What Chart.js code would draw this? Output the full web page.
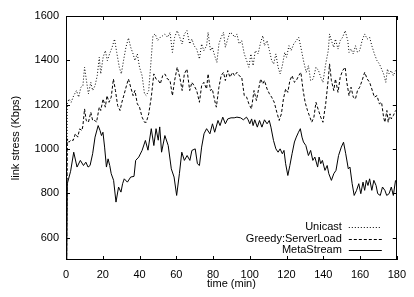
<!DOCTYPE html>
<html>
<head>
<meta charset="utf-8">
<script src="https://cdn.jsdelivr.net/npm/chart.js@4.4.1/dist/chart.umd.min.js"></script>
<style>
  html, body { margin: 0; padding: 0; background: #fff; }
  #wrap { width: 414px; height: 297px; }
</style>
</head>
<body>
<div id="wrap"><canvas id="c" width="414" height="297"></canvas></div>
<script>
// ---- data ----
const seriesNames = ["Unicast", "Greedy:ServerLoad", "MetaStream"];
const xTicks = [0, 20, 40, 60, 80, 100, 120, 140, 160, 180];
const yTicks = [600, 800, 1000, 1200, 1400, 1600];

const unicastTime = [0,0.7,1.6,2.8,4.2,5.7,6.9,8.1,9.2,10.1,11,12.2,13.5,14.5,15.8,17,18.1,18.9,20.2,21.4,22.5,23.7,25.1,26.4,27.6,29,30.1,31.3,32.6,34,35.2,36.5,37.5,38.8,40,41.4,42.7,43.7,45,46.2,47.3,48.5,49.9,51.3,52.6,53.8,55.2,56.6,57.9,59.1,60.5,61.9,63.2,64.4,65.8,67.3,68.5,69.7,71.1,72.6,73.8,75,76.5,77.3,78.6,79.6,80.9,82.1,83.2,84.4,85.7,86.7,88,89.2,90.6,91.7,93,94.2,95.6,97,98.3,99.5,100.6,101.8,103,104.5,105.9,107.1,108,109.4,110.7,111.9,113,114.2,115.4,116.5,117.7,119,120,121.3,122.5,123.9,125.3,126.6,127.8,129.2,130.7,131.9,133.1,134.5,136,137.4,138.6,139.8,141.3,142.7,143.4,144.4,145.7,146.6,148,149.2,150.5,151.9,153.3,154,155.1,156.3,157.5,158.6,159.8,161.1,162.5,163.9,165.2,166.4,167.8,169.2,170.5,171.7,172.8,174,174.9,175.8,177,178.1,179.3];
const unicastValue = [0,1204,1226,1211,1241,1264,1234,1279,1286,1369,1316,1249,1301,1264,1286,1331,1414,1339,1414,1444,1399,1429,1459,1496,1436,1369,1339,1399,1459,1501,1459,1429,1399,1429,1369,1331,1249,1241,1264,1390,1511,1519,1489,1504,1511,1519,1504,1526,1436,1504,1534,1504,1474,1519,1534,1474,1496,1466,1451,1406,1474,1444,1466,1526,1444,1459,1421,1391,1474,1504,1526,1459,1496,1526,1519,1504,1519,1474,1489,1429,1399,1369,1429,1376,1444,1429,1481,1511,1466,1489,1444,1399,1384,1429,1369,1339,1376,1436,1414,1466,1444,1474,1489,1504,1459,1399,1346,1376,1309,1316,1369,1354,1324,1301,1384,1444,1519,1489,1459,1496,1451,1489,1504,1534,1489,1436,1451,1429,1466,1436,1444,1489,1519,1496,1504,1466,1429,1399,1384,1361,1339,1301,1361,1339,1354,1331,1354];

const greedyTime = [0,0.7,1.6,2.8,3.9,5.1,6.4,7.4,8.7,9.2,10.1,11,12.2,13.5,14.5,15.8,16.6,18.1,18.9,20.2,21.4,22.3,23.4,24.6,25.8,26.9,28.1,29.4,30.4,31.7,32.9,34,35.2,36.5,37.5,38.8,40,41.4,42.7,43.7,45,46.4,47.8,49,50.3,51.3,52.6,53.8,55.2,56.6,57.9,59.1,60.5,61.9,63.2,64.4,65.8,67.3,68.5,69.7,71.1,72.6,73.8,75,76.5,77.3,78.6,79.6,80.9,81.8,83.2,84.4,85.7,86.7,88,89.2,90.6,91.7,93,94.2,95.6,97,98.3,99.5,100.9,102.3,103.6,104.8,105.9,107.1,108,109.4,110.7,111.9,113.3,114.7,116,117.2,118.3,119.5,120.7,121.8,123,124.3,125.3,126.6,127.8,128.9,130.1,131.4,132.4,133.7,134.9,136,137.4,138.6,139.8,141.3,142.7,143.4,144.4,145.7,146.6,148,149.2,150.5,151.9,152.8,154,155.1,156.3,157.5,158.6,159.8,161.1,162.5,163.9,165.2,166.4,167.8,169.2,170.5,171.7,172.8,173.5,174.6,175.3,176.3,177,178.1,179.3];
const greedyValue = [0,1046,1031,1042,1039,1069,1054,1091,1084,1106,1181,1129,1121,1166,1129,1129,1121,1189,1174,1226,1189,1241,1211,1234,1316,1264,1196,1174,1211,1249,1286,1316,1279,1241,1264,1204,1189,1144,1121,1121,1159,1234,1339,1316,1309,1294,1331,1339,1316,1309,1241,1309,1369,1324,1264,1339,1361,1264,1301,1286,1264,1211,1286,1301,1271,1339,1264,1271,1219,1189,1279,1331,1346,1309,1354,1324,1346,1331,1346,1331,1324,1241,1234,1204,1181,1264,1219,1271,1316,1294,1309,1271,1249,1234,1211,1166,1129,1159,1226,1271,1256,1309,1331,1301,1309,1331,1346,1271,1211,1174,1151,1121,1144,1211,1174,1144,1121,1204,1316,1384,1309,1264,1316,1256,1324,1354,1369,1301,1241,1279,1234,1226,1264,1279,1309,1346,1316,1301,1271,1234,1241,1204,1211,1144,1121,1174,1121,1159,1136,1151,1174];

const metaTime = [0,0.7,2.5,4.2,6,7.8,9.5,10.8,12,13.1,14.5,15.8,17.5,18.5,19.3,20.1,21,22,22.9,23.8,24.6,25.9,27.2,28.6,29.9,30.8,31.7,33.4,35.2,37,37.9,39.6,41.4,43.2,44.6,46.4,47.8,49,50.2,51,52,53.8,55.6,57.3,58.8,60.2,61.7,63,64.4,65.9,67.4,68.5,70.3,71.5,72.6,73.8,75.1,76.5,78.3,79.7,80.9,82.7,83.8,85.3,86.7,88,89.8,91.5,93,95,96.5,98.2,99.1,100,101,101.8,102.7,104.1,105.3,106.6,108,109.4,110.6,111.5,112.9,114.2,115.4,116.5,117.7,118.6,119.5,120.7,121.8,123,124.3,125.3,126.5,127.5,128.4,129.2,130.5,131.9,133.1,134.3,135.4,136.9,137.7,138.6,139.5,140.9,142.1,143,144.4,145.7,146.9,148.3,149.8,151,152.2,153.6,154.5,155.7,156.8,158.1,159.3,160.4,161.6,162.5,163.4,164.3,165.2,166.4,167.5,168.7,169.6,171,172.2,173.5,174.5,175.8,177,178.1,179.3];
const metaValue = [0,844,900,986,919,949,926,941,919,926,979,1054,1106,1084,1061,1076,1009,919,956,926,889,859,761,829,806,844,866,851,874,877,949,964,994,1039,995,1092,1016,1092,1040,1100,986,1061,1016,911,874,791,889,986,949,971,949,994,1001,934,926,1009,1069,1092,1069,1114,1076,1129,1106,1144,1114,1136,1141,1141,1144,1141,1132,1144,1132,1114,1136,1106,1132,1099,1129,1099,1132,1114,1129,1099,1039,1001,986,1001,979,994,934,881,926,979,1032,1054,1076,1092,1054,1032,1016,971,994,949,964,919,964,934,949,904,926,889,859,889,904,971,1009,1031,979,911,919,844,791,814,844,799,851,814,859,836,866,814,859,836,799,791,829,814,791,799,829,791,859];

// ---- chart ----
const FONT = "'Liberation Sans', Arial, Helvetica, sans-serif";
const INK = "#000";

function pts(ts, vs) { return ts.map((t, i) => ({ x: t, y: vs[i] })); }

const styles = [
  { dash: [1, 2] },
  { dash: [3, 2] },
  { dash: [] }
];

const framePlugin = {
  id: 'frame',
  afterDatasetsDraw(chart) {
    const { ctx, chartArea: a, scales } = chart;
    const xs = scales.x, ys = scales.y;
    ctx.save();
    ctx.strokeStyle = INK;
    ctx.lineWidth = 1;
    ctx.setLineDash([]);
    // frame
    ctx.strokeRect(Math.round(a.left) + 0.5, Math.round(a.top) + 0.5,
                   Math.round(a.right - a.left) - 1, Math.round(a.bottom - a.top) - 1);
    const tl = 4;
    ctx.beginPath();
    xTicks.forEach(v => {
      const px = Math.round(xs.getPixelForValue(v)) + 0.5;
      ctx.moveTo(px, a.bottom); ctx.lineTo(px, a.bottom - tl);
      ctx.moveTo(px, a.top); ctx.lineTo(px, a.top + tl);
    });
    yTicks.forEach(v => {
      const py = Math.round(ys.getPixelForValue(v)) + 0.5;
      ctx.moveTo(a.left, py); ctx.lineTo(a.left + tl, py);
      ctx.moveTo(a.right, py); ctx.lineTo(a.right - tl, py);
    });
    ctx.stroke();

    // legend (inside, bottom right)
    ctx.font = "11px " + FONT;
    ctx.fillStyle = INK;
    ctx.textAlign = 'right';
    ctx.textBaseline = 'middle';
    const textRight = a.right - 55;
    const lineX0 = a.right - 48, lineX1 = a.right - 15;
    const rowY = [a.bottom - 33, a.bottom - 21.5, a.bottom - 10];
    seriesNames.forEach((name, i) => {
      ctx.fillText(name, textRight, rowY[i]);
      ctx.beginPath();
      ctx.setLineDash(styles[i].dash);
      ctx.moveTo(lineX0, Math.round(rowY[i]) + 0.5);
      ctx.lineTo(lineX1, Math.round(rowY[i]) + 0.5);
      ctx.stroke();
    });
    ctx.restore();
  }
};

const seriesData = [pts(unicastTime, unicastValue), pts(greedyTime, greedyValue), pts(metaTime, metaValue)];

new Chart(document.getElementById('c'), {
  type: 'line',
  data: {
    datasets: seriesNames.map((n, i) => ({
      label: n,
      data: seriesData[i],
      borderColor: INK,
      borderWidth: 1,
      borderDash: styles[i].dash,
      pointRadius: 0,
      tension: 0,
      fill: false
    }))
  },
  options: {
    responsive: false,
    animation: false,
    devicePixelRatio: 1,
    layout: { padding: { left: 0, top: 16, right: 9, bottom: 0 } },
    plugins: { legend: { display: false }, tooltip: { enabled: false } },
    scales: {
      x: {
        type: 'linear',
        min: 0, max: 180,
        afterBuildTicks: s => { s.ticks = xTicks.map(v => ({ value: v })); },
        afterFit: s => { s.height = 37; },
        grid: { display: false, drawTicks: false },
        border: { display: false },
        ticks: { color: INK, font: { family: FONT, size: 11 }, padding: 8, maxRotation: 0, autoSkip: false,
                 callback: v => String(v) },
        title: { display: true, text: 'time (min)', color: INK, font: { family: FONT, size: 11 }, padding: { top: 0, bottom: 6 } }
      },
      y: {
        type: 'linear',
        min: 500, max: 1600,
        afterBuildTicks: s => { s.ticks = yTicks.map(v => ({ value: v })); },
        afterFit: s => { s.width = 66; },
        grid: { display: false, drawTicks: false },
        border: { display: false },
        ticks: { color: INK, font: { family: FONT, size: 11 }, padding: 7, autoSkip: false,
                 callback: v => String(v) },
        title: { display: true, text: 'link stress (Kbps)', color: INK, font: { family: FONT, size: 11 }, padding: { top: 9, bottom: 0 } }
      }
    }
  },
  plugins: [framePlugin]
});
</script>
</body>
</html>
